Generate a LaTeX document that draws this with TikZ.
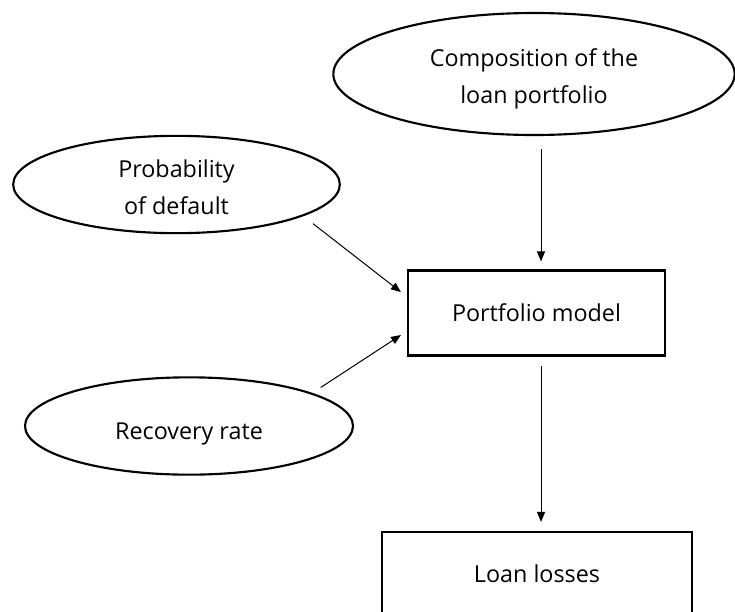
\documentclass[tikz,border=0pt]{standalone}
\usepackage{fontspec}
\setmainfont{Open Sans}
\usetikzlibrary{shapes.geometric,arrows.meta}

\tikzset{every picture/.style={line width=0.75pt}}
\tikzset{
  oval/.style={ellipse,draw,line width=1.6pt,inner sep=0pt,align=center,font=\fontsize{17.5}{27.75}\selectfont},
  blk/.style={rectangle,draw,line width=1.6pt,inner sep=0pt,align=center,font=\fontsize{17.5}{27.75}\selectfont},
  flow/.style={-{Triangle[length=7.5pt,width=6pt]},line width=0.75pt}
}

\begin{document}
\begin{tikzpicture}[x=0.75pt,y=0.75pt,yscale=-1,xscale=1]
\useasboundingbox (0,0) rectangle (735,611);

%Shape: Ellipse [id:compo]
\node [oval,minimum width=301pt,minimum height=91.5pt] (compo) at (534,74) {\rule{0pt}{21pt}Composition of the\\loan portfolio};
%Shape: Ellipse [id:prob]
\node [oval,minimum width=245pt,minimum height=73pt] (prob) at (176.5,184.5) {\rule{0pt}{18pt}Probability\\of default};
%Shape: Ellipse [id:rec]
\node [oval,minimum width=246pt,minimum height=73pt] (rec) at (189,426) {\rule{0pt}{25pt}Recovery rate};
%Shape: Rectangle [id:model]
\node [blk,minimum width=192.75pt,minimum height=63.75pt] (model) at (536.5,313) {Portfolio model};
%Shape: Rectangle [id:loss]
\node [blk,minimum width=232.5pt,minimum height=63pt] (loss) at (537,574) {Loan losses};

%Straight Lines [id:compo-model]
\draw [flow,shorten <=9.75pt,shorten >=6pt] ([xshift=5.25pt]compo.south) -- ([xshift=5.25pt]compo.south |- model.north);
%Straight Lines [id:prob-model]
\draw [flow,shorten <=9.2pt,shorten >=5.7pt] (prob.-14) -- ([yshift=-12.2pt]model.west);
%Straight Lines [id:rec-model]
\draw [flow,shorten <=7.5pt,shorten >=5.3pt] (rec.15) -- ([yshift=13.6pt]model.west);
%Straight Lines [id:model-loss]
\draw [flow,shorten <=6.75pt,shorten >=6.75pt] ([xshift=3.4pt]model.south) -- ([xshift=3.4pt]model.south |- loss.north);

\end{tikzpicture}
\end{document}
